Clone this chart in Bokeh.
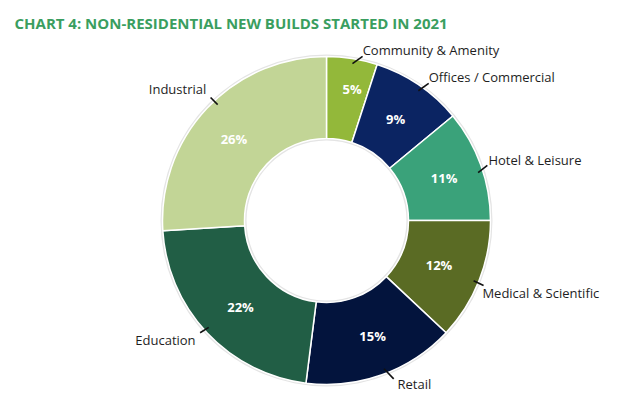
import math
from bokeh.plotting import figure
from bokeh.models import Range1d, ColumnDataSource
from bokeh.core.properties import value
from bokeh.embed import file_html
from bokeh.resources import INLINE

# ---- data ----
categories = ["Community & Amenity", "Offices / Commercial", "Hotel & Leisure",
              "Medical & Scientific", "Retail", "Education", "Industrial"]
shares = [5, 9, 11, 12, 15, 22, 26]
pct_labels = ["5%", "9%", "11%", "12%", "15%", "22%", "26%"]
title_text = "CHART 4: NON-RESIDENTIAL NEW BUILDS STARTED IN 2021"

# ---- styles / layout ----
colors = ["#93B83A", "#0B2462", "#3AA27A", "#5A6B24", "#03143D", "#215E45", "#C2D596"]
R_OUT, R_IN = 164, 82
label_nudge = [3.0, 1.3, -0.8, 3.4, -3.7, 0.9, 4.3]
label_r = [174, 176, 173, 172, 178, 177, 178]
lead_in_nudge = [0.4, 1.1, 2.3, 0.7, -1.4, 1.0, 3.6]
lead_out_nudge = [3.4, 2.5, 0.9, 0.9, -3.2, 1.6, 3.5]
lead_out_r = [168, 171, 170, 170, 172, 169, 169]
pct_r = [134, 123, 125, 121, 124, 122, 123]
pct_nudge = [2, 0, 0, 0, -2, -2, -2]

p = figure(width=604, height=393, output_backend="svg", toolbar_location=None,
           x_range=Range1d(-326, 278), y_range=Range1d(-173, 220),
           min_border=0, background_fill_color="white", border_fill_color="white")
p.axis.visible = False
p.xgrid.visible = False
p.ygrid.visible = False
p.outline_line_color = None

total = float(sum(shares))
starts, ends, mids = [], [], []
acc = 0.0
for s in shares:
    a0 = acc / total * 360.0
    acc += s
    a1 = acc / total * 360.0
    starts.append(a0)
    ends.append(a1)
    mids.append((a0 + a1) / 2)

def to_math(deg):
    return math.radians(90.0 - deg)

def pt(r, deg):
    t = math.radians(deg)
    return r * math.sin(t), r * math.cos(t)

# subtle shadow rings
p.annulus(x=[0], y=[0], inner_radius=R_OUT - 1, outer_radius=R_OUT + 2,
          fill_color="#e4e4e4", line_color=None)
p.annulus(x=[0], y=[0], inner_radius=R_IN - 2, outer_radius=R_IN + 1,
          fill_color="#e4e4e4", line_color=None)

src = ColumnDataSource(dict(
    start=[to_math(a) for a in starts],
    end=[to_math(a) for a in ends],
    color=colors,
))
p.annular_wedge(x=0, y=0, inner_radius=R_IN, outer_radius=R_OUT,
                start_angle="start", end_angle="end", direction="clock",
                fill_color="color", line_color="white", line_width=1.5, source=src)

# percent labels
px, py = [], []
for i, m in enumerate(mids):
    x, y = pt(pct_r[i], m + pct_nudge[i])
    px.append(x)
    py.append(y)
p.text(x=px, y=py, text=pct_labels, text_color="white", text_font=value("Open Sans"),
       text_font_style="bold", text_font_size="13px", text_align="center",
       text_baseline="middle")

# leader lines and category labels
xs, ys = [], []
lx, ly, ltxt, lalign = [], [], [], []
for i, m in enumerate(mids):
    x0, y0 = pt(159, m + lead_in_nudge[i])
    x1, y1 = pt(lead_out_r[i], m + lead_out_nudge[i])
    xs.append([x0, x1])
    ys.append([y0, y1])
    a = m + label_nudge[i]
    x, y = pt(label_r[i], a)
    lx.append(x)
    ly.append(y)
    ltxt.append(categories[i])
    lalign.append("left" if (a % 360) < 180 else "right")
p.multi_line(xs=xs, ys=ys, line_color="#111111", line_width=1.6)
lsrc = ColumnDataSource(dict(x=lx, y=ly, text=ltxt, align=lalign))
p.text(x="x", y="y", text="text", text_align="align", source=lsrc,
       text_color="#1e1e1e", text_font=value("Open Sans"), text_font_size="13px",
       text_baseline="middle")

# title
p.text(x=[-312], y=[220 - 22.5], text=[title_text], text_color="#3A9E5F",
       text_font=value("Open Sans"), text_font_style="bold",
       text_font_size="15px", text_baseline="alphabetic", text_align="left")

open("out.html", "w").write(file_html(p, INLINE))
